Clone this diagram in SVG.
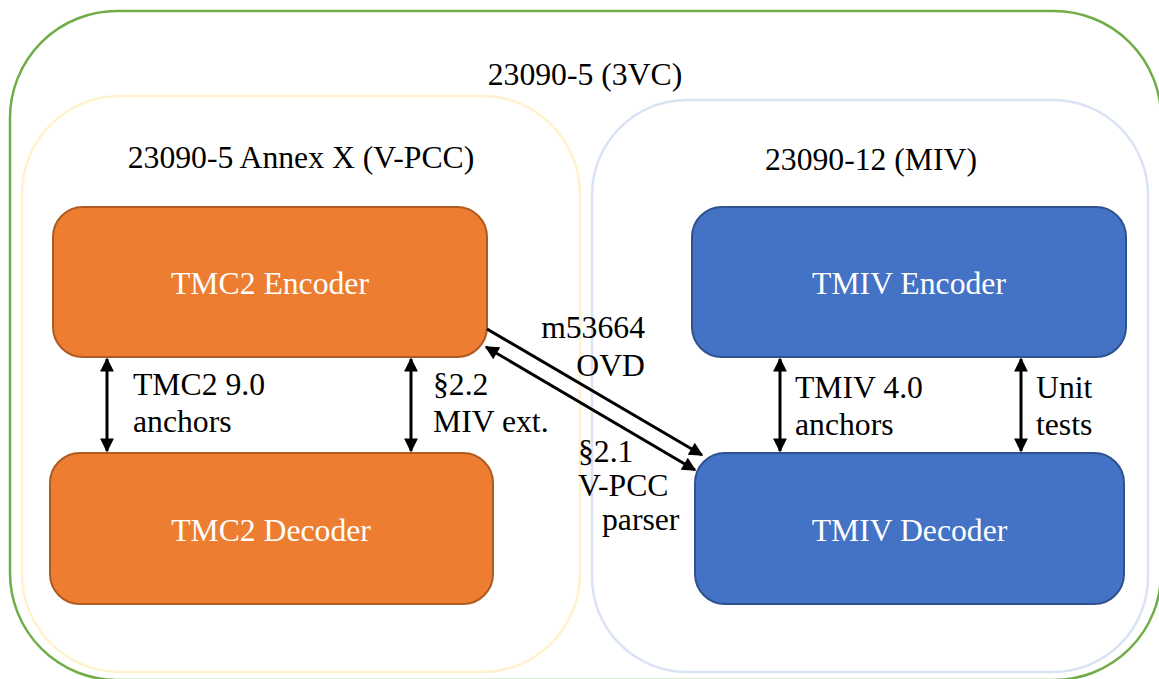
<svg xmlns="http://www.w3.org/2000/svg" width="1159" height="679" viewBox="0 0 1159 679">
<style>
  text { font-family: 'Liberation Serif', 'DejaVu Serif', serif; font-size: 31.7px; fill: #000; }
  .w { fill: #fff; text-anchor: middle; }
  .c { text-anchor: middle; }
  .e { text-anchor: end; }
  .orange { fill: #ED7D31; stroke: #AE5A21; stroke-width: 2; }
  .blue { fill: #4472C4; stroke: #2F528F; stroke-width: 2; }
  .conn { stroke: #000; stroke-width: 3; fill: none; }
</style>
<defs>
  <marker id="ah" viewBox="0 0 10 10" refX="9" refY="5" markerWidth="5" markerHeight="4.6" orient="auto-start-reverse" markerUnits="strokeWidth">
    <path d="M0,0 L10,5 L0,10 z" fill="#000"/>
  </marker>
</defs>
<rect width="1159" height="679" fill="#fff"/>
<g id="group-3vc">
  <rect x="10" y="11" width="1151" height="669" rx="107" ry="107" fill="none" stroke="#70AD47" stroke-width="2.5"/>
  <text class="c" x="585" y="85" font-family="Liberation Serif, serif">23090-5 (3VC)</text>
</g>
<g id="group-vpcc">
  <rect x="22" y="96" width="558" height="576" rx="98" ry="98" fill="none" stroke="#FFF2CC" stroke-width="2.5"/>
  <text class="c" x="301" y="168" font-family="Liberation Serif, serif">23090-5 Annex X (V-PCC)</text>
</g>
<g id="group-miv">
  <rect x="592" y="100" width="556" height="572" rx="95" ry="95" fill="none" stroke="#DAE3F3" stroke-width="2.5"/>
  <text class="c" x="871" y="170" font-family="Liberation Serif, serif">23090-12 (MIV)</text>
</g>
<g id="tmc2-encoder">
  <rect class="orange" x="53" y="207" width="434" height="150" rx="30" ry="30"/>
  <text class="w" x="270" y="294" font-family="Liberation Serif, serif">TMC2 Encoder</text>
</g>
<g id="tmc2-decoder">
  <rect class="orange" x="50" y="453" width="443" height="151" rx="30" ry="30"/>
  <text class="w" x="271" y="541" font-family="Liberation Serif, serif">TMC2 Decoder</text>
</g>
<g id="tmiv-encoder">
  <rect class="blue" x="692" y="207" width="434" height="150" rx="30" ry="30"/>
  <text class="w" x="909" y="294" font-family="Liberation Serif, serif">TMIV Encoder</text>
</g>
<g id="tmiv-decoder">
  <rect class="blue" x="695" y="453" width="429" height="151" rx="30" ry="30"/>
  <text class="w" x="909.5" y="541" font-family="Liberation Serif, serif">TMIV Decoder</text>
</g>
<g id="connectors">
  <line class="conn" x1="107" y1="359" x2="107" y2="451" marker-start="url(#ah)" marker-end="url(#ah)"/>
  <line class="conn" x1="411" y1="359" x2="411" y2="451" marker-start="url(#ah)" marker-end="url(#ah)"/>
  <line class="conn" x1="780" y1="359" x2="780" y2="451" marker-start="url(#ah)" marker-end="url(#ah)"/>
  <line class="conn" x1="1021" y1="359" x2="1021" y2="451" marker-start="url(#ah)" marker-end="url(#ah)"/>
  <line class="conn" x1="487" y1="329" x2="702" y2="455" marker-end="url(#ah)"/>
  <line class="conn" x1="486" y1="347" x2="695" y2="470" marker-start="url(#ah)" marker-end="url(#ah)"/>
</g>
<g id="labels" font-family="Liberation Serif, serif">
  <text x="133" y="395">TMC2 9.0</text>
  <text x="133" y="432">anchors</text>
  <text x="433" y="395">§2.2</text>
  <text x="433" y="432">MIV ext.</text>
  <text x="795" y="398">TMIV 4.0</text>
  <text x="795" y="435">anchors</text>
  <text x="1036" y="398">Unit</text>
  <text x="1036" y="435">tests</text>
  <text class="e" x="645" y="338">m53664</text>
  <text class="e" x="645" y="376">OVD</text>
  <text x="578" y="462">§2.1</text>
  <text x="578" y="496">V-PCC</text>
  <text x="602" y="530">parser</text>
</g>
</svg>
